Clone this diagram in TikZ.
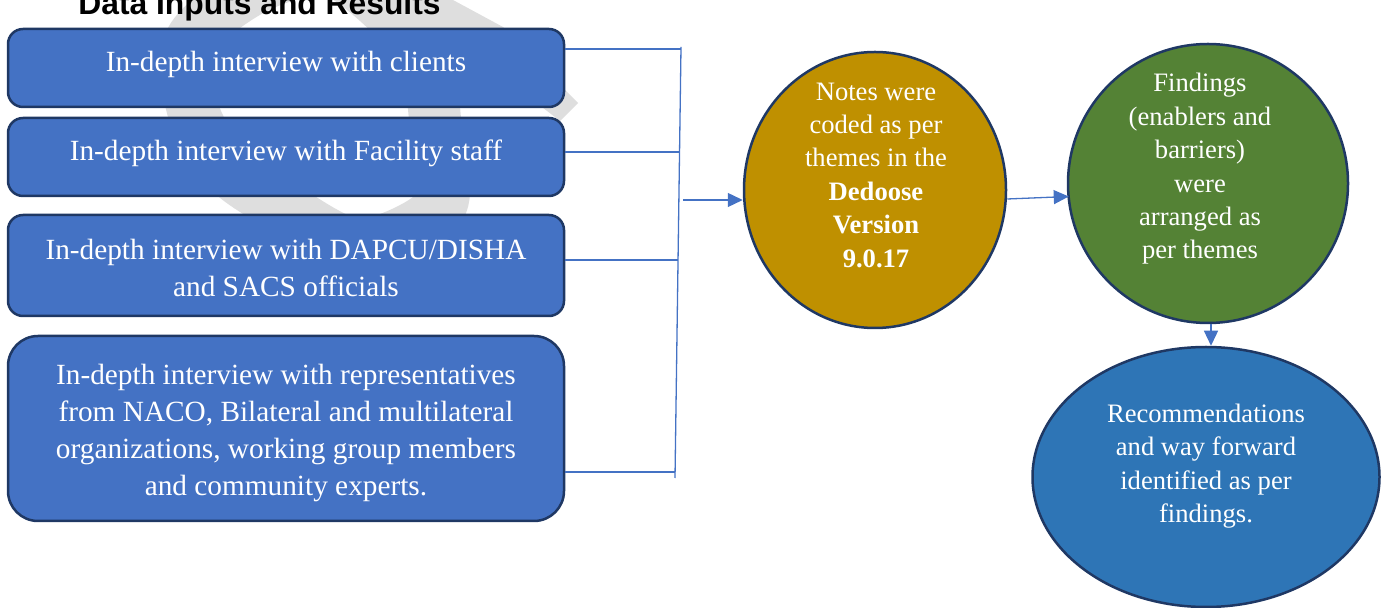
\documentclass[tikz,border=0pt]{standalone}
\usepackage{fontspec}
\setmainfont{Liberation Serif}
\newfontfamily\titlefont{Liberation Sans}
\usetikzlibrary{shapes.geometric,arrows.meta}
\definecolor{boxblue}{HTML}{4472C4}
\definecolor{navy}{HTML}{1F3864}
\definecolor{gold}{HTML}{BF9000}
\definecolor{leaf}{HTML}{548235}
\definecolor{sea}{HTML}{2E75B6}
\definecolor{wmark}{HTML}{DEDEDE}

\begin{document}
\begin{tikzpicture}[x=0.5pt,y=-0.5pt,
  inbox/.style={draw=navy, line width=1.25pt, fill=boxblue, rounded corners=7.5pt,
    minimum width=278pt, inner sep=0pt},
  boxtext/.style={text=white, align=center, inner sep=0pt,
    font=\fontsize{14.65pt}{18.5pt}\selectfont},
  stage/.style={ellipse, draw=navy, line width=1.25pt, inner sep=0pt},
  stagetext/.style={text=white, align=center, inner sep=0pt,
    font=\fontsize{13.3pt}{16.7pt}\selectfont},
  link/.style={draw=boxblue, line width=0.65pt},
  flow/.style={link, -{Triangle[length=7.5pt,width=7pt]}}
]
\useasboundingbox (0,0) rectangle (1386,608);
\clip (0,0) rectangle (1386,608);

% faint background mark behind the input boxes
\draw[wmark, line width=26pt] plot[smooth cycle] coordinates
  {(191,40) (193,110) (228,170) (283,207) (360,245) (440,207)
   (436,130) (426,60) (395,18) (330,-30) (255,-12)};
\fill[wmark] (330,-40) -- (440,-40) -- (453,0) -- (503,27) -- (578,103)
  -- (560,121) -- (520,90) -- cycle;

% heading
\node[anchor=base west, inner sep=0pt,
  font=\titlefont\bfseries\fontsize{15.9pt}{19pt}\selectfont] (title) at (78,15)
  {Data Inputs and Results};

% data inputs
\node[inbox, minimum height=39pt] (b1) at (286,68) {};
\node[inbox, minimum height=39pt] (b2) at (286,157) {};
\node[inbox, minimum height=50.5pt] (b3) at (286,265.5) {};
\node[inbox, minimum height=92.5pt, rounded corners=15pt] (b4) at (286,428.5) {};
\node[boxtext] (t1) at (286,64) {In-depth interview with clients};
\node[boxtext] (t2) at (286,153) {In-depth interview with Facility staff};
\node[boxtext] (t3) at (286,268) {In-depth interview with DAPCU/DISHA\\and SACS officials};
\node[boxtext] (t4) at (286,433) {In-depth interview with representatives\\from NACO, Bilateral and multilateral\\organizations, working group members\\and community experts.};

% analysis and results
\node[stage, fill=gold, minimum width=131pt, minimum height=138pt] (e1) at (875,190) {};
\node[stage, fill=leaf, minimum width=140pt, minimum height=139.5pt] (e2) at (1208,183.5) {};
\node[stage, fill=sea, minimum width=173.5pt, minimum height=130pt] (e3) at (1206,477) {};
\node[stagetext] (s1) at (876,175) {Notes were\\coded as per\\themes in the\\\textbf{Dedoose}\\\textbf{Version}\\\textbf{9.0.17}};
\node[stagetext] (s2) at (1200,169) {Findings\\(enablers and\\barriers)\\were\\arranged as\\per themes};
\node[stagetext] (s3) at (1206,466) {Recommendations\\and way forward\\identified as per\\findings.};

% bracket collecting the inputs
\coordinate (jt) at (681,47);
\coordinate (jb) at (675,478);
\coordinate (j1) at (681,49);
\coordinate (j2) at (679.5,152);
\coordinate (j3) at (678,260);
\coordinate (j4) at (675.1,472);
\coordinate (ja) at (683,200);
\draw[link] (jt) -- (jb);
\draw[link] (b1.east |- j1) -- (j1);
\draw[link] (b2.east |- j2) -- (j2);
\draw[link] (b3.east |- j3) -- (j3);
\draw[link] (b4.east |- j4) -- (j4);

% flow arrows
\draw[flow] (ja) -- (ja -| e1.west);
\draw[flow] ([yshift=-4.5pt]e1.east) -- ([xshift=1pt,yshift=-6.5pt]e2.west);
\draw[flow] ([xshift=1.5pt]e2.south) -- ([xshift=2.5pt]e3.north);
\end{tikzpicture}
\end{document}
